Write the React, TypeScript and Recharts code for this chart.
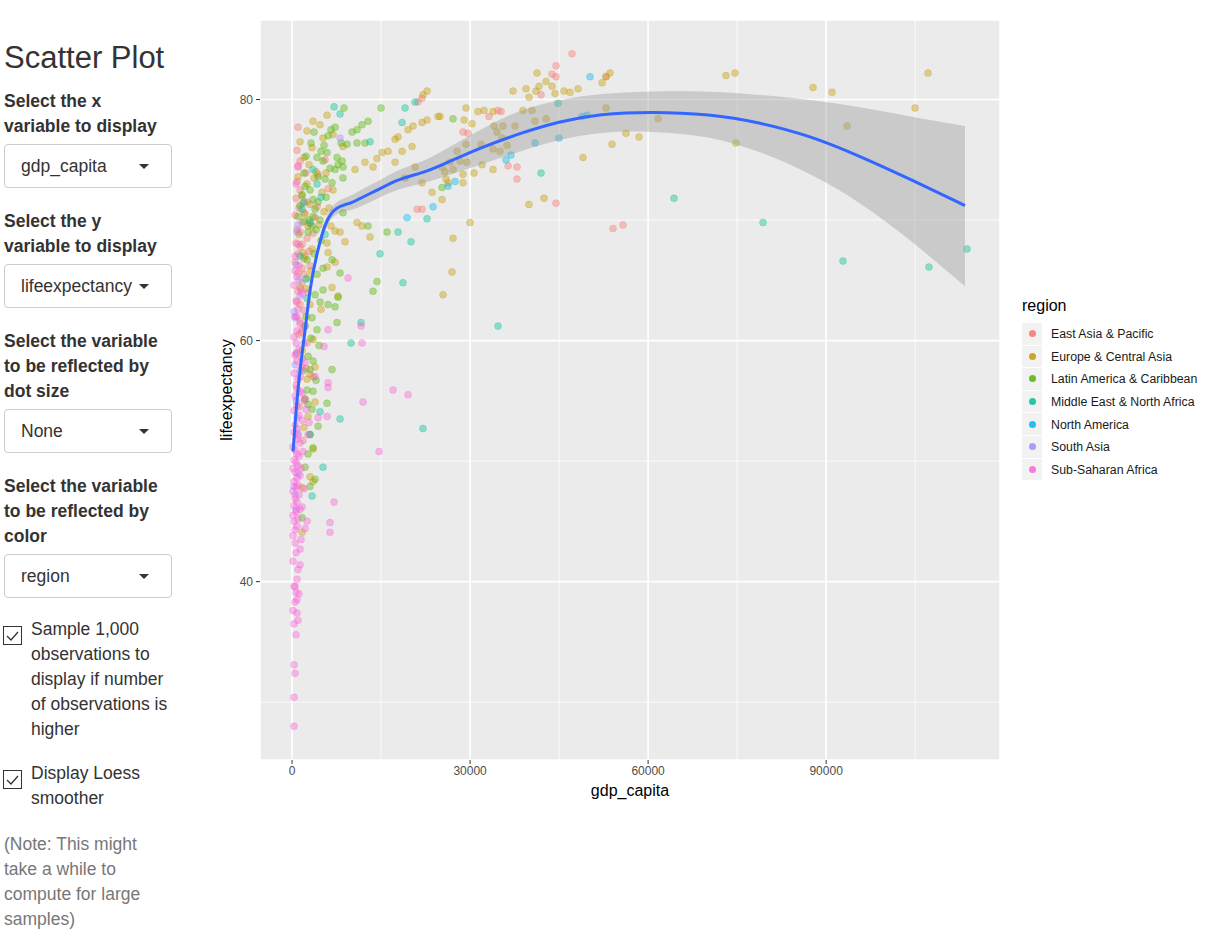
import React from 'react';
import { ComposedChart, Scatter, Area, Line, XAxis, YAxis, CartesianGrid, Label } from 'recharts';

type Pt = [number, number];

const regions = [
  'East Asia & Pacific',
  'Europe & Central Asia',
  'Latin America & Caribbean',
  'Middle East & North Africa',
  'North America',
  'South Asia',
  'Sub-Saharan Africa',
];
const regionColors = ['#F8766D', '#C49A00', '#53B400', '#00C094', '#00B6EB', '#A58AFF', '#FB61D7'];

// gdp_capita, lifeexpectancy
const eastAsiaPacific: Pt[] = [
  [1010, 77.7], [1010, 74.4], [840, 73.2], [1350, 72.5], [675, 71.8], [1180, 71.0], [2020, 70.6], [1685, 69.8],
  [840, 69.2], [2530, 68.5], [1350, 67.8], [2190, 67.0], [3030, 66.2], [1010, 65.6], [1685, 64.8], [2700, 64.0],
  [840, 63.2], [2020, 62.5], [1350, 61.6], [3540, 68.9], [4210, 71.1], [3880, 70.2], [505, 66.5], [1180, 60.5],
  [2530, 59.8], [1685, 58.5], [3030, 57.2], [840, 56.0], [2190, 55.2], [4380, 73.8], [5560, 75.0], [6070, 72.6],
  [1350, 69.0], [1685, 68.0], [1010, 67.2], [2020, 65.5], [1350, 63.0], [1685, 66.0], [2530, 71.5], [3030, 69.7],
  [840, 75.8], [1350, 74.9], [505, 70.4], [2360, 73.9], [1850, 71.4], [675, 68.1], [2870, 67.4], [1010, 64.1],
  [1520, 60.7], [675, 58.9], [2360, 57.7], [1180, 54.5], [1850, 51.7],
  [21060, 70.9], [21900, 70.9], [21230, 79.8], [21900, 80.1], [28810, 77.3], [29660, 77.2], [33190, 78.6],
  [35220, 79.0], [36400, 74.5], [37910, 74.4], [37910, 73.4], [41960, 80.4], [44480, 71.4], [44480, 82.8],
  [43810, 82.1], [44480, 81.9], [47180, 83.8], [52910, 81.9], [54090, 69.3], [55770, 69.6], [34710, 79.1],
];

const europeCentralAsia: Pt[] = [
  [3540, 78.2], [5220, 76.8], [6910, 77.1], [8590, 76.1], [10620, 74.2], [12300, 74.8], [13650, 74.4], [14320, 75.1],
  [15170, 75.6], [16180, 75.7], [17360, 76.7], [17860, 76.9], [19550, 77.5], [20390, 77.8], [21900, 78.1],
  [22750, 78.3], [24600, 78.6], [20220, 76.1], [18540, 75.7], [17360, 74.8], [19040, 73.5], [20730, 74.4],
  [21900, 73.1], [23590, 72.3], [25280, 71.7], [26290, 73.1], [25280, 74.4], [26620, 74.8],
  [10950, 69.8], [11800, 69.5], [13140, 68.6], [8930, 68.2], [8090, 69.0], [7250, 69.1], [5900, 68.1], [6070, 67.3],
  [7250, 66.5], [5900, 66.1], [6740, 64.4], [7750, 63.7], [25440, 63.8], [26960, 65.7], [27130, 68.5], [29990, 69.8],
  [3540, 60.1], [3880, 57.8], [3540, 57.0], [3880, 54.9], [2700, 53.7], [3540, 51.0], [3540, 48.3], [1685, 44.1],
  [3030, 48.7], [1685, 47.8],
  [1350, 76.5], [2020, 75.2], [1010, 73.6], [2530, 73.0], [1685, 72.0], [3030, 71.3], [2190, 70.5], [2700, 69.5],
  [1180, 68.8], [3370, 67.6], [2020, 66.8], [2700, 65.2], [1350, 64.4], [3030, 63.0], [2190, 61.2], [1685, 59.2],
  [2530, 56.8], [2020, 52.8],
  [2530, 77.4], [3370, 76.0], [4720, 77.9], [5900, 78.7], [4040, 74.0], [5050, 72.3], [6230, 71.0], [2870, 74.6],
  [3710, 73.5], [4550, 69.6], [1850, 67.3], [3200, 65.8], [4880, 62.6], [2360, 64.3], [5390, 70.7], [6560, 69.5],
  [6900, 72.5], [5730, 73.9],
  [22070, 80.4], [22750, 80.7], [41280, 82.2], [42800, 81.5], [41620, 81.1], [43810, 81.1], [41110, 80.7],
  [39430, 80.9], [37240, 80.7], [44320, 80.5], [45830, 80.7], [46840, 80.6], [48190, 80.9], [39930, 80.2],
  [52240, 81.4], [52910, 81.9], [53580, 82.2], [52910, 79.3], [61670, 78.4], [56280, 77.2], [58470, 76.9],
  [53920, 76.3], [49030, 75.2], [39930, 71.3], [42460, 71.8], [29320, 79.3], [31340, 79.0], [32350, 79.1],
  [33870, 79.0], [38920, 79.1], [40440, 79.1], [24940, 78.6], [28980, 78.3], [30330, 78.0], [34040, 77.8],
  [35550, 77.8], [40950, 78.2], [42800, 78.4], [37580, 77.8], [34540, 77.3], [35390, 76.8], [29320, 76.3],
  [31850, 76.3], [36230, 76.2], [33870, 75.9], [35050, 75.7], [27800, 75.7], [28310, 74.9], [29490, 74.8],
  [30670, 73.9], [32020, 74.6], [33870, 74.2], [28810, 73.8], [28810, 73.1], [25950, 73.4], [27130, 74.2],
  [25780, 74.0],
  [73130, 82.0], [74650, 82.2], [87790, 81.0], [90990, 80.6], [93520, 77.8], [104980, 79.3], [107170, 82.2],
  [74810, 76.4],
];

const latinAmericaCaribbean: Pt[] = [
  [3710, 77.3], [6070, 77.0], [7250, 77.7], [6560, 77.5], [10110, 77.3], [10950, 77.5], [11800, 77.9], [12810, 78.2],
  [8260, 76.4], [9270, 76.3], [10950, 76.4], [12300, 76.4], [15000, 79.3], [8760, 79.3], [4890, 75.7], [5900, 75.6],
  [4210, 75.2], [5220, 74.9], [7580, 75.2], [8430, 74.9], [7750, 74.6], [8590, 74.4], [8590, 73.5], [7250, 74.2],
  [6740, 73.1], [5560, 73.4], [2190, 72.8], [3030, 72.5], [1685, 72.1], [3540, 71.7], [4380, 71.5], [3880, 70.9],
  [3540, 70.3], [4720, 70.0], [3370, 69.5], [4040, 69.2], [2700, 69.0], [2020, 69.9], [1010, 70.3], [8590, 70.6],
  [12810, 69.5], [16010, 69.0], [14320, 64.9], [13650, 64.1], [6740, 66.7], [8090, 65.6], [4210, 65.5], [5220, 64.2],
  [4720, 63.2], [7750, 63.6], [7250, 62.8], [7580, 61.5], [4210, 60.9], [3370, 61.9], [2190, 61.2], [2700, 58.7],
  [3540, 58.3], [3030, 57.6], [2530, 55.9], [3540, 55.8], [2190, 55.1], [3370, 54.3], [3030, 52.2], [3540, 51.1],
  [2190, 49.5], [3880, 48.5], [3030, 47.9], [1685, 45.3], [25280, 72.7], [27130, 78.4],
  [2360, 75.3], [3200, 76.4], [5390, 76.2], [6400, 74.3], [4380, 73.6], [5730, 71.9], [2020, 73.9], [1350, 71.2],
  [2870, 70.0], [4880, 68.3], [3710, 67.2], [5220, 66.0], [2530, 66.7], [3880, 63.8], [6070, 63.0], [2360, 62.0],
  [4550, 59.6], [3200, 60.2], [4040, 56.7], [2700, 54.7], [1850, 57.5], [4380, 52.9], [2700, 50.6], [6740, 57.6],
  [5900, 54.8],
];

const middleEastNorthAfrica: Pt[] = [
  [22070, 52.7], [8090, 53.5], [5220, 49.5], [9940, 59.8], [11630, 61.5], [14830, 67.2], [18700, 64.8],
  [17860, 69.0], [20050, 68.2], [22750, 70.1], [34710, 61.2], [41960, 73.9], [64370, 71.8], [44820, 79.7],
  [79370, 69.8], [92840, 66.6], [107330, 66.1], [113740, 67.6], [7080, 79.4], [8090, 78.8], [19040, 79.3],
  [20730, 79.8], [3370, 47.1], [4720, 54.1], [3030, 52.2], [2020, 71.5], [4210, 73.0], [1350, 67.0], [2530, 63.5],
  [13140, 76.5], [18540, 78.1], [3540, 74.2], [4890, 71.9], [3030, 69.8], [5560, 68.8], [2360, 65.1], [1685, 70.9],
];

const northAmerica: Pt[] = [
  [50210, 81.9], [44990, 76.8], [40950, 76.4], [36900, 75.4], [36060, 75.0], [27470, 73.2], [26290, 72.8],
  [48870, 78.6], [49700, 78.7], [23760, 71.1], [19380, 70.2],
];

const southAsia: Pt[] = [
  [8090, 76.8], [1010, 69.6], [840, 69.0], [340, 62.4], [505, 61.9], [340, 47.9], [505, 47.2], [1350, 57.5],
  [1010, 52.3], [675, 55.0], [1180, 65.0], [840, 59.0], [675, 66.3], [1350, 63.7], [505, 58.0], [840, 53.6],
  [1010, 49.0], [675, 46.0],
];

const subSaharanAfrica: Pt[] = [
  [11960, 54.9], [14660, 50.8], [7080, 46.6], [6400, 44.9], [6400, 44.1], [5900, 53.7], [4380, 53.6], [2870, 53.2],
  [9440, 65.2], [11800, 59.8], [11630, 61.2], [5390, 59.5], [6070, 60.9], [6070, 56.5], [6070, 56.1], [3880, 57.0],
  [19550, 55.5], [17020, 55.9], [2700, 52.2], [2530, 45.0],
  [340, 28.0], [340, 30.4], [505, 32.4], [340, 33.1], [675, 35.6], [340, 36.5], [840, 37.4], [505, 38.3],
  [840, 38.5], [675, 39.1], [1180, 39.0], [505, 39.6], [840, 40.2], [170, 41.7], [1350, 41.4], [675, 42.4],
  [1350, 42.7], [505, 43.2],
  [170, 43.8], [505, 44.3], [840, 44.6], [340, 45.0], [1010, 45.2], [170, 45.5], [675, 45.8], [1350, 46.0],
  [340, 46.3], [840, 46.6], [505, 46.9], [1180, 47.2], [170, 47.5], [675, 47.8], [1010, 48.0], [340, 48.3],
  [840, 48.6], [1350, 48.8], [505, 49.1], [170, 49.4], [1010, 49.6], [675, 49.9], [340, 50.1], [1180, 50.4],
  [840, 50.6], [505, 50.9], [170, 51.2], [1350, 51.5], [675, 51.8], [1010, 52.1], [340, 52.4], [840, 52.7],
  [505, 53.0], [1685, 53.4], [1180, 53.8], [340, 54.2], [840, 54.6], [2020, 55.0], [505, 55.4], [1350, 55.8],
  [675, 56.3], [1010, 56.8], [340, 57.3], [1685, 57.8], [840, 58.3], [505, 58.8], [1180, 59.3], [2020, 59.8],
  [340, 60.3], [840, 60.8], [1350, 61.4], [505, 62.0], [1010, 62.6], [675, 63.3], [1685, 63.9], [340, 64.6],
  [840, 65.3], [1180, 66.2], [505, 67.0], [1010, 68.0], [675, 73.0], [1010, 74.5],
  [505, 65.8], [1520, 64.2], [840, 62.0], [1850, 61.0], [675, 59.8], [2190, 58.2], [1350, 57.0], [1685, 55.6],
  [2360, 54.3], [1850, 50.8], [1520, 49.4], [2020, 47.7], [1685, 46.2], [2190, 44.4], [1520, 43.5], [1010, 41.0],
  [340, 39.6], [170, 37.6], [1010, 36.8],
];

const regionPoints = [
  eastAsiaPacific, europeCentralAsia, latinAmericaCaribbean, middleEastNorthAfrica,
  northAmerica, southAsia, subSaharanAfrica,
];

// loess smoother with its confidence band
const loessX = [170, 1010, 2190, 3030, 4210, 5560, 7250, 10110, 11800, 14490, 17860, 21900, 24940, 31680, 38420,
  45160, 51900, 60320, 70430, 78860, 87280, 95710, 104130, 113400];
const loessFit = [50.8, 56.5, 60.7, 64.5, 67.3, 69.8, 71.1, 71.4, 71.9, 72.5, 73.4, 73.9, 74.5, 76.0, 77.2,
  78.2, 78.8, 79.0, 78.8, 78.1, 77.0, 75.3, 73.4, 71.2];
const loessLow = [50.3, 56.0, 60.3, 64.1, 66.9, 69.4, 70.6, 70.8, 71.2, 71.8, 72.6, 73.0, 73.5, 74.6, 75.7,
  76.7, 77.3, 77.4, 77.0, 75.7, 73.9, 71.5, 68.4, 64.5];
const loessHigh = [51.3, 57.0, 61.1, 64.9, 67.7, 70.2, 71.6, 72.0, 72.6, 73.2, 74.2, 74.8, 75.6, 77.5, 79.2,
  80.0, 80.5, 80.7, 80.7, 80.4, 80.0, 79.4, 78.6, 77.8];

const xTicks = [0, 30000, 60000, 90000];
const xMinor = [15000, 45000, 75000, 105000];
const yTicks = [40, 60, 80];
const yMinor = [30, 50, 70];

const loessRows = loessX.map((x, i) => ({ x, y: loessFit[i], band: [loessLow[i], loessHigh[i]] }));

const FONT = "Arial, 'Liberation Sans', Helvetica, sans-serif";

const dot = (color: string) => (props: any) => (
  <circle cx={props.cx} cy={props.cy} r={3.5} fill={color} fillOpacity={0.4}
    stroke={color} strokeOpacity={0.3} strokeWidth={0.8} />
);

const labelStyle: React.CSSProperties = {
  position: 'absolute', left: 4, fontWeight: 700, fontSize: 17.5, lineHeight: '25px', color: '#333',
};

const SelectBox = ({ top, value }: { top: number; value: string }) => (
  <div style={{
    position: 'absolute', left: 4, top, width: 150, height: 42, border: '1px solid #ccc', borderRadius: 4,
    fontSize: 17.5, lineHeight: '42px', color: '#333', paddingLeft: 16, boxSizing: 'content-box',
  }}>
    {value}
    <div style={{
      position: 'absolute', left: 134, top: 19, width: 0, height: 0,
      borderLeft: '5px solid transparent', borderRight: '5px solid transparent', borderTop: '5px solid #333',
    }} />
  </div>
);

const CheckBox = ({ top }: { top: number }) => (
  <svg style={{ position: 'absolute', left: 3, top }} width={20} height={20}>
    <rect x={0.5} y={0.5} width={18} height={18} fill="#fff" stroke="#333" />
    <polyline points="4,10 8,14 15,6" fill="none" stroke="#333" strokeWidth={1.3} />
  </svg>
);

const Sidebar = () => (
  <>
    <div style={{ position: 'absolute', left: 4, top: 41, fontSize: 31, lineHeight: '34px', color: '#333' }}>
      Scatter Plot
    </div>
    <div style={{ ...labelStyle, top: 89 }}>Select the x<br />variable to display</div>
    <SelectBox top={144} value="gdp_capita" />
    <div style={{ ...labelStyle, top: 209 }}>Select the y<br />variable to display</div>
    <SelectBox top={264} value="lifeexpectancy" />
    <div style={{ ...labelStyle, top: 329 }}>Select the variable<br />to be reflected by<br />dot size</div>
    <SelectBox top={409} value="None" />
    <div style={{ ...labelStyle, top: 474 }}>Select the variable<br />to be reflected by<br />color</div>
    <SelectBox top={554} value="region" />
    <CheckBox top={626} />
    <div style={{ ...labelStyle, left: 31, top: 617, fontWeight: 400 }}>
      Sample 1,000<br />observations to<br />display if number<br />of observations is<br />higher
    </div>
    <CheckBox top={770} />
    <div style={{ ...labelStyle, left: 31, top: 761, fontWeight: 400 }}>Display Loess<br />smoother</div>
    <div style={{ ...labelStyle, top: 832, fontWeight: 400, color: '#777' }}>
      (Note: This might<br />take a while to<br />compute for large<br />samples)
    </div>
  </>
);

const RegionLegend = () => (
  <div style={{ position: 'absolute', left: 1022, top: 296, fontFamily: FONT }}>
    <div style={{ fontSize: 16, lineHeight: '20px', color: '#000', marginBottom: 7 }}>region</div>
    {regions.map((name, i) => (
      <div key={name} style={{ display: 'flex', alignItems: 'center', height: 22.6 }}>
        <div style={{ width: 20, height: 21.6, background: '#F2F2F2', borderBottom: '1px solid #fff', position: 'relative' }}>
          <div style={{
            position: 'absolute', left: 7, top: 7.3, width: 7, height: 7, borderRadius: '50%',
            background: regionColors[i], opacity: 0.85,
          }} />
        </div>
        <div style={{ marginLeft: 9, fontSize: 12.3, color: '#1A1A1A', whiteSpace: 'nowrap' }}>{name}</div>
      </div>
    ))}
  </div>
);

export default function App() {
  return (
    <div style={{ position: 'absolute', left: 0, top: 0, width: 1220, height: 935, background: '#fff', fontFamily: FONT }}>
      <Sidebar />
      <div style={{ position: 'absolute', left: 210, top: 10 }}>
        <ComposedChart width={1010} height={810} data={loessRows} margin={{ top: 10, right: 220, bottom: 30, left: 10 }}>
          <CartesianGrid horizontalValues={yMinor} verticalValues={xMinor} stroke="#ffffff" strokeWidth={0.8} fill="#EBEBEB" />
          <CartesianGrid stroke="#ffffff" strokeWidth={1.6} />
          <XAxis
            type="number" dataKey="x" domain={[-5400, 119300]} ticks={xTicks} interval={0} allowDataOverflow
            axisLine={false} tickLine={{ stroke: '#333333' }} tickSize={4} tickMargin={2} height={30}
            tick={{ fontSize: 12, fill: '#4D4D4D', fontFamily: FONT }}
          >
            <Label content={(p: any) => {
              const vb = p.viewBox || { x: 50, y: 750, width: 740, height: 30 };
              return (
                <text x={vb.x + vb.width / 2} y={vb.y + 36} textAnchor="middle" fontSize={16} fill="#000" fontFamily={FONT}>
                  gdp_capita
                </text>
              );
            }} />
          </XAxis>
          <YAxis
            type="number" dataKey="y" domain={[25.2, 86.6]} ticks={yTicks} interval={0} allowDataOverflow
            axisLine={false} tickLine={{ stroke: '#333333' }} tickSize={4} tickMargin={3} width={40}
            tick={{ fontSize: 12, fill: '#4D4D4D', fontFamily: FONT }}
          >
            <Label content={(p: any) => {
              const vb = p.viewBox || { x: 10, y: 10, width: 40, height: 740 };
              const cx = vb.x + 12;
              const cy = vb.y + vb.height / 2;
              return (
                <text x={cx} y={cy} transform={`rotate(-90 ${cx} ${cy})`} textAnchor="middle" fontSize={16} fill="#000" fontFamily={FONT}>
                  lifeexpectancy
                </text>
              );
            }} />
          </YAxis>
          {regions.map((name, i) => (
            <Scatter
              key={name}
              name={name}
              data={regionPoints[i].map(([x, y]) => ({ x, y }))}
              shape={dot(regionColors[i])}
              isAnimationActive={false}
              zIndex={300}
            />
          ))}
          <Area type="basis" dataKey="band" stroke="none" fill="#999999" fillOpacity={0.4}
            isAnimationActive={false} activeDot={false} zIndex={400} />
          <Line type="basis" dataKey="y" stroke="#3366FF" strokeWidth={3} dot={false}
            isAnimationActive={false} activeDot={false} zIndex={500} />
        </ComposedChart>
      </div>
      <RegionLegend />
    </div>
  );
}
